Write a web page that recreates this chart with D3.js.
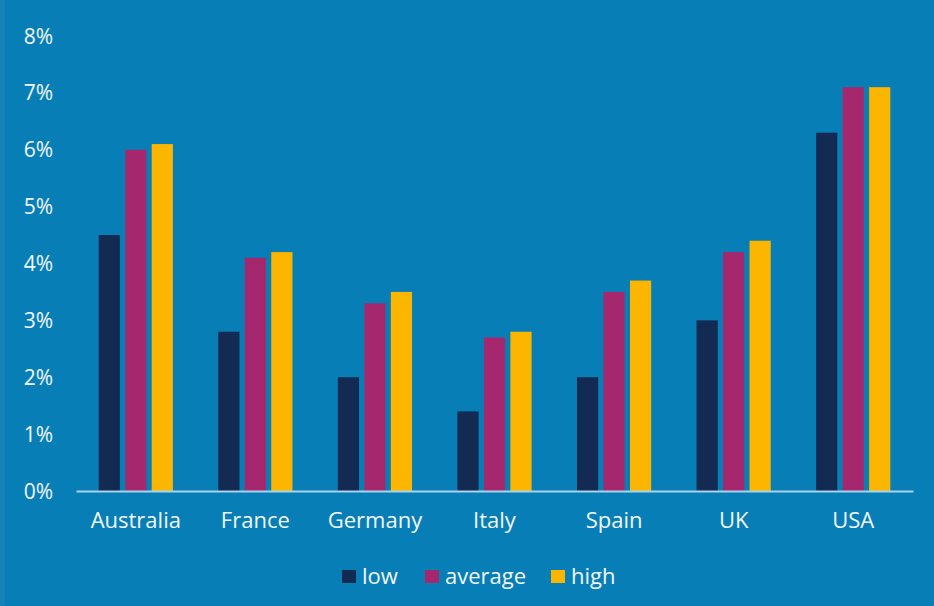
<!DOCTYPE html>
<html>
<head>
<meta charset="utf-8">
<script src="https://cdn.jsdelivr.net/npm/d3@7"></script>
<style>
  html, body { margin: 0; padding: 0; background: #087eb7; }
  svg { display: block; }
  text { font-family: "Open Sans", "Noto Sans", sans-serif; fill: #f2f6fa; }
</style>
</head>
<body>
<svg width="934" height="606"></svg>
<script>
// chart data
const countries = ["Australia", "France", "Germany", "Italy", "Spain", "UK", "USA"];
const series = ["low", "average", "high"];
const low = [4.5, 2.8, 2.0, 1.4, 2.0, 3.0, 6.3];
const average = [6.0, 4.1, 3.3, 2.7, 3.5, 4.2, 7.1];
const high = [6.1, 4.2, 3.5, 2.8, 3.7, 4.4, 7.1];
const yTicks = [0, 1, 2, 3, 4, 5, 6, 7, 8];

const colors = { low: "#132b52", average: "#a5286e", high: "#fdb600" };
const values = { low, average, high };

const svg = d3.select("svg");
const width = 934, height = 606;

svg.append("rect").attr("width", width).attr("height", height).attr("fill", "#087eb7");
svg.append("rect").attr("width", 5).attr("height", height).attr("fill", "#1582b8");

const x0 = d3.scaleBand()
  .domain(countries)
  .range([76, 913])
  .paddingInner(0.335)
  .paddingOuter(0.1675);

const x1 = d3.scaleBand()
  .domain(series)
  .range([0, x0.bandwidth()])
  .paddingInner(0.2)
  .paddingOuter(0.1);

const y = d3.scaleLinear().domain([0, 8]).range([491, 36]);

// y tick labels (no axis line)
svg.append("g")
  .selectAll("text")
  .data(yTicks)
  .join("text")
  .attr("x", 53)
  .attr("y", d => y(d))
  .attr("dy", "0.36em")
  .attr("text-anchor", "end")
  .attr("font-size", 21)
  .text(d => d + "%");

// bars
const rows = countries.map((c, i) => ({ country: c, vals: series.map(s => ({ key: s, v: values[s][i] })) }));

const grp = svg.append("g")
  .selectAll("g")
  .data(rows)
  .join("g")
  .attr("transform", d => `translate(${x0(d.country)},0)`);

grp.selectAll("rect")
  .data(d => d.vals)
  .join("rect")
  .attr("x", d => x1(d.key))
  .attr("width", x1.bandwidth())
  .attr("y", d => y(d.v))
  .attr("height", d => y(0) - y(d.v))
  .attr("fill", d => colors[d.key]);

// baseline + category labels
const xAxis = svg.append("g")
  .attr("transform", `translate(0,${y(0)})`)
  .call(d3.axisBottom(x0).tickSize(0).tickPadding(21).tickSizeOuter(0));
xAxis.select(".domain").attr("stroke", "#a9d3ec").attr("stroke-width", 2);
xAxis.selectAll("text")
  .attr("font-size", 22)
  .attr("font-family", "\"Open Sans\", sans-serif")
  .attr("fill", "#f2f6fa");

// legend
const legendItems = [
  { key: "low", label: "low", x: 342 },
  { key: "average", label: "average", x: 425 },
  { key: "high", label: "high", x: 551 }
];
const lg = svg.append("g")
  .selectAll("g")
  .data(legendItems)
  .join("g")
  .attr("transform", d => `translate(${d.x},570)`);
lg.append("rect")
  .attr("width", 14)
  .attr("height", 13)
  .attr("fill", d => colors[d.key]);
lg.append("text")
  .attr("x", 20)
  .attr("y", 13.5)
  .attr("font-size", 22)
  .text(d => d.label);
</script>
</body>
</html>
